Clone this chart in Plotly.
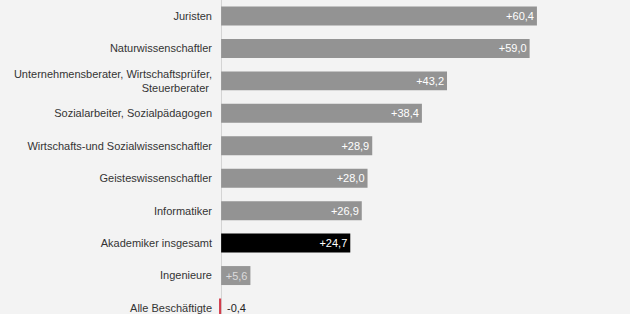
import plotly.graph_objects as go

categories = [
    "Juristen",
    "Naturwissenschaftler",
    "Unternehmensberater, Wirtschaftsprüfer,<br>Steuerberater ",
    "Sozialarbeiter, Sozialpädagogen",
    "Wirtschafts-und Sozialwissenschaftler",
    "Geisteswissenschaftler",
    "Informatiker",
    "Akademiker insgesamt",
    "Ingenieure",
    "Alle Beschäftigte",
]
values = [60.4, 59.0, 43.2, 38.4, 28.9, 28.0, 26.9, 24.7, 5.6, -0.4]

def fmt(v):
    return f"{v:+.1f}".replace(".", ",")

bar_colors = []
text_colors = []
texts = []
for c, v in zip(categories, values):
    if v < 0:
        bar_colors.append("#d23c4b")
        text_colors.append("rgba(0,0,0,0)")
        texts.append("")
    elif c.startswith("Akademiker"):
        bar_colors.append("#000000")
        text_colors.append("#ffffff")
        texts.append(fmt(v))
    elif v < 10:
        bar_colors.append("#969696")
        text_colors.append("#dcdcdc")
        texts.append(fmt(v))
    else:
        bar_colors.append("#939393")
        text_colors.append("#ffffff")
        texts.append(fmt(v))

fig = go.Figure(
    go.Bar(
        x=values,
        y=categories,
        orientation="h",
        marker=dict(color=bar_colors, line=dict(width=0)),
        text=texts,
        textposition="inside",
        insidetextanchor="end",
        constraintext="none",
        textfont=dict(color=text_colors, size=11, family="Liberation Sans, Arial"),
        hoverinfo="skip",
        cliponaxis=False,
    )
)

# label for negative value placed to the right of the zero axis
for c, v in zip(categories, values):
    if v < 0:
        fig.add_annotation(
            x=0, y=c, text=fmt(v), showarrow=False, xanchor="left", xshift=4,
            font=dict(color="#222222", size=11, family="Liberation Sans, Arial"),
        )

fig.update_layout(
    width=630,
    height=314,
    margin=dict(l=218, r=0, t=0, b=0, autoexpand=False),
    paper_bgcolor="#f3f3f3",
    plot_bgcolor="#f3f3f3",
    bargap=0.415,
    showlegend=False,
    font=dict(family="Liberation Sans, Arial", size=11, color="#333333"),
    xaxis=dict(
        range=[-0.6, 78.2],
        showgrid=False,
        showticklabels=False,
        zeroline=True,
        zerolinecolor="#d4d4d4",
        zerolinewidth=1,
        layer="below traces",
        fixedrange=True,
        automargin=False,
    ),
    yaxis=dict(
        type="category",
        categoryorder="array",
        categoryarray=categories,
        range=[9.185, -0.493],
        showgrid=False,
        showline=False,
        ticks="",
        ticklabelstandoff=5,
        tickfont=dict(size=11, color="#333333"),
        fixedrange=True,
        automargin=False,
    ),
)

fig.write_html(
    "out.html",
    config={"displayModeBar": False},
    post_script="document.body.style.margin='0';document.body.style.padding='0';"
    "document.body.style.background='#f3f3f3';document.body.style.overflow='hidden';",
)
